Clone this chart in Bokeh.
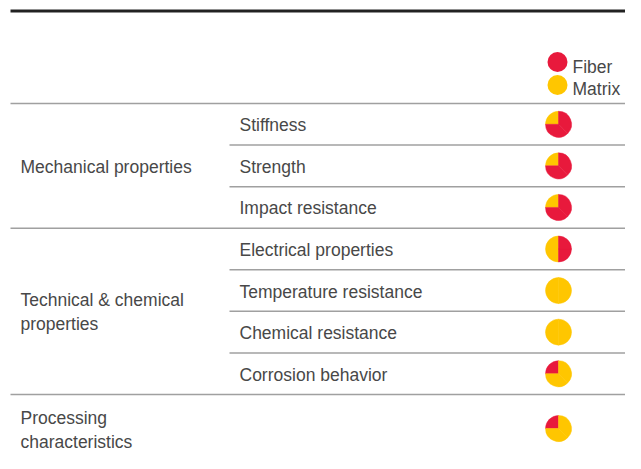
import math
from bokeh.plotting import figure
from bokeh.models import Range1d, ColumnDataSource
from bokeh.core.properties import value
from bokeh.embed import file_html
from bokeh.resources import INLINE

# ---- data ----
group_labels = [["Mechanical properties"],
                ["Technical & chemical", "properties"],
                ["Processing", "characteristics"]]
properties = ["Stiffness", "Strength", "Impact resistance", "Electrical properties",
              "Temperature resistance", "Chemical resistance", "Corrosion behavior", ""]
row_group = [0, 0, 0, 1, 1, 1, 1, 2]
fiber_share = [0.75, 0.75, 0.75, 0.5, 0.0, 0.0, 0.25, 0.25]
legend_labels = ["Fiber", "Matrix"]

# ---- style ----
RED = "#E8193C"
YELLOW = "#FFC600"
TEXT = "#484848"
LINE = "#a0a0a0"
FONT = "Liberation Sans"
FS = "17.5px"
W, H = 625, 453


def Y(sy):  # screen y -> data y
    return H - sy


p = figure(width=W, height=H, output_backend="svg", toolbar_location=None,
           x_range=Range1d(0, W), y_range=Range1d(0, H), min_border=0)
p.axis.visible = False
p.grid.visible = False
p.outline_line_color = None
p.background_fill_color = "white"
p.border_fill_color = "white"

# row layout
row_h = 41.57
top0 = 103
heights = [row_h] * 7 + [68]
tops = []
t = top0
for h in heights:
    tops.append(t)
    t += h
centers = [tops[i] + heights[i] / 2 for i in range(len(tops))]
centers[-1] = 428

# top thick rule
p.segment(x0=[10], y0=[Y(10.5)], x1=[W], y1=[Y(10.5)], line_color="#222222", line_width=3)

# horizontal separators
gy, sy = [], []
for i in range(len(properties)):
    if i == 0 or row_group[i] != row_group[i - 1]:
        gy.append(Y(tops[i]))
    else:
        sy.append(Y(tops[i]))
p.segment(x0=[10] * len(gy), y0=gy, x1=[W] * len(gy), y1=gy, line_color=LINE, line_width=1.5)
p.segment(x0=[229] * len(sy), y0=sy, x1=[W] * len(sy), y1=sy, line_color=LINE, line_width=1.5)

# property labels
px, py, pt = [], [], []
for i, name in enumerate(properties):
    if name:
        px.append(239)
        py.append(Y(centers[i] + 1))
        pt.append(name)
p.text(x=px, y=py, text=pt, text_font=value(FONT), text_font_size=FS,
       text_color=TEXT, text_baseline="middle", text_align="left")

# group labels
gxs, gys, gts = [], [], []
for g, lines in enumerate(group_labels):
    rows = [i for i in range(len(row_group)) if row_group[i] == g]
    gtop = tops[rows[0]]
    gbot = tops[rows[-1]] + heights[rows[-1]]
    gc = (gtop + gbot) / 2 if g != 2 else centers[rows[-1]]
    n = len(lines)
    for k, ln in enumerate(lines):
        gxs.append(20)
        gys.append(Y(gc + (k - (n - 1) / 2) * 24 + 1))
        gts.append(ln)
p.text(x=gxs, y=gys, text=gts, text_font=value(FONT), text_font_size=FS,
       text_color=TEXT, text_baseline="middle", text_align="left")

# pies (minority share placed counter-clockwise from 12 o'clock)
wx, wy, ws, we, wc = [], [], [], [], []
pie_x = 558
for i, f in enumerate(fiber_share):
    m = 1 - f
    if f < 0.5:
        minor, minor_c, major_c = f, RED, YELLOW
    else:
        minor, minor_c, major_c = m, YELLOW, RED
    a0 = math.pi / 2
    a1 = a0 + minor * 2 * math.pi
    a2 = a0 + 2 * math.pi
    cy = Y(centers[i])
    if minor > 0:
        wx.append(pie_x); wy.append(cy); ws.append(a0); we.append(a1); wc.append(minor_c)
    if minor < 1:
        mid = (a1 + a2) / 2
        for s, e in ((a1, mid), (mid, a2)):
            wx.append(pie_x); wy.append(cy); ws.append(s); we.append(e); wc.append(major_c)
src = ColumnDataSource(dict(x=wx, y=wy, s=ws, e=we, c=wc))
p.wedge(x="x", y="y", radius=13, start_angle="s", end_angle="e", direction="anticlock",
        fill_color="c", line_color="c", line_width=0.5, source=src)

# legend
p.circle(x=[557, 557], y=[Y(61.5), Y(84.5)], radius=10, fill_color=[RED, YELLOW], line_color=None)
p.text(x=[572, 572], y=[Y(66), Y(88)], text=legend_labels, text_font=value(FONT),
       text_font_size=FS, text_color=TEXT, text_baseline="middle", text_align="left")

open("out.html", "w").write(file_html(p, INLINE))
